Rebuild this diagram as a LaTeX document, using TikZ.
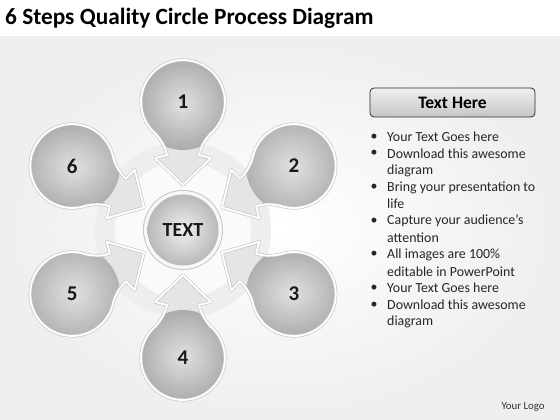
\documentclass[tikz,border=0pt]{standalone}
\usepackage{fontspec}
\setmainfont{Carlito}
\usetikzlibrary{calc}
\newcommand\petalshape{(45,0) -- (72,-28) -- (75,-16) .. controls (84,-18) and (90,-22) .. (95.8,-27) arc[start angle=-140,end angle=140,radius=42] .. controls (90,22) and (84,18) .. (75,16) -- (72,28) -- cycle}
\tikzset{
  numlabel/.style={font=\bfseries\fontsize{21}{24}\selectfont, text=black!90},
  bullettext/.style={anchor=west, font=\fontsize{13.9}{16}\selectfont, text=black!85, inner sep=0pt},
}
\newcommand\mypetal[3]{%
  \begin{scope}[shift={(183,190)}, rotate=#1]
    \fill[gray!20] \petalshape;
    \begin{scope}
      \clip \petalshape;
      \shade[inner color=gray!24, outer color=gray!66] (126,0) circle (46);
    \end{scope}
    \draw[gray!45, line width=3.2pt, line join=round] \petalshape;
    \draw[white, line width=1.9pt, line join=round] \petalshape;
  \end{scope}
  \node[numlabel] (#2) at ($(183,190)+(#1:128)$) {#3};
}
\begin{document}
\begin{tikzpicture}[x=1pt,y=1pt]
\useasboundingbox (0,0) rectangle (560,420);
\fill[white] (0,0) rectangle (560,420);
\shade[inner color=white, outer color=gray!13] (0,0) rectangle (560,383);
\node[anchor=west, inner sep=0pt, font=\bfseries\fontsize{23.3}{27}\selectfont] (title) at (5,402) {6 Steps Quality Circle Process Diagram};

% background ring
\fill[gray!13] (183,190) circle (88);
\fill[gray!4] (183,190) circle (68);

\mypetal{90}{p1}{1}
\mypetal{30}{p2}{2}
\mypetal{-30}{p3}{3}
\mypetal{-90}{p4}{4}
\mypetal{-150}{p5}{5}
\mypetal{150}{p6}{6}

% center circle
\fill[gray!45] (183,190) circle (40);
\fill[gray!6] (183,190) circle (39);
\shade[inner color=gray!12, outer color=gray!55] (183,190) circle (35.5);
\node[numlabel, font=\bfseries\fontsize{20}{24}\selectfont] (center) at (183,190) {TEXT};

% header box
\node[draw=gray!35!black, rounded corners=4pt, top color=gray!12, bottom color=gray!45, minimum width=165pt, minimum height=29pt, line width=0.8pt, font=\bfseries\fontsize{17.5}{20}\selectfont] (hdr) at (452.5,317.5) {Text Here};

% bullet lines
\foreach \t/\b [count=\i from 0] in {Your Text Goes here/1, Download this awesome/1, diagram/0, Bring your presentation to/1, life/0, Capture your audience’s/1, attention/0, All images are 100\%/1, editable in PowerPoint/0, Your Text Goes here/1, Download this awesome/1, diagram/0}{
  \node[bullettext] (ln\i) at (387, 283-16.8*\i) {\t};
  \ifnum\b=1
    \node[bullettext] (bl\i) at (370.5, 283-16.8*\i) {•};
  \fi
}

\node[font=\fontsize{10.8}{12}\selectfont, text=black!80] (logo) at (523,13) {Your Logo};
\end{tikzpicture}
\end{document}
